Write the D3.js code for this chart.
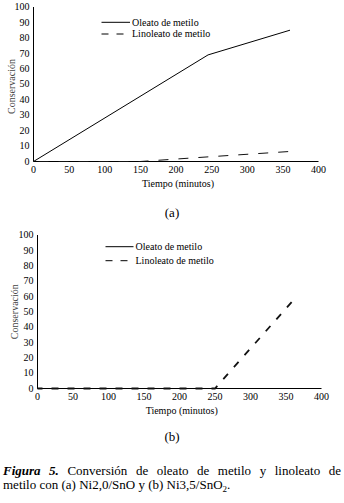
<!DOCTYPE html>
<html>
<head>
<meta charset="utf-8">
<script src="https://cdn.jsdelivr.net/npm/d3@7"></script>
<style>
  body { margin: 0; background: #fff; }
  svg { display: block; }
  svg text { font-family: "Liberation Serif", "Times New Roman", Times, serif; }
</style>
</head>
<body>
<svg id="svg" width="344" height="503"></svg>
<script>
//Data
const X_TICKS = [0, 50, 100, 150, 200, 250, 300, 350, 400];
const Y_TICKS = [0, 10, 20, 30, 40, 50, 60, 70, 80, 90, 100];
const SERIES_NAMES = ["Oleato de metilo", "Linoleato de metilo"];

// panel (a) Ni2,0/SnO
const A_OLEATO_T = [0, 245, 360];
const A_OLEATO_C = [0, 69, 85];
const A_LINOLEATO_T = [0, 150, 245, 360];
const A_LINOLEATO_C = [0, 0, 3, 6.5];

// panel (b) Ni3,5/SnO2
const B_OLEATO_T = [0, 250, 365];
const B_OLEATO_C = [0, 0, 0];
const B_LINOLEATO_T = [0, 250, 365];
const B_LINOLEATO_C = [0, 0, 60];

const X_LABEL = "Tiempo (minutos)";
const Y_LABEL = "Conservación";
const FONT = "'Liberation Serif', 'Times New Roman', Times, serif";

const SVG = d3.select("#svg");

function zip(ts, cs) { return ts.map((t, i) => ({t: t, c: cs[i]})); }

function drawPanel(p)
{
    let g = SVG.append("g");

    let x_scale = d3.scaleLinear().domain([0, 400]).range([p.left, p.right]);
    let y_scale = d3.scaleLinear().domain([0, 100]).range([p.bottom, p.top]);

    let x_axis = d3.axisBottom(x_scale).tickValues(X_TICKS).tickSize(0).tickPadding(4).offset(0);
    let y_axis = d3.axisLeft(y_scale).tickValues(Y_TICKS).tickSize(0).tickPadding(4).offset(0);

    //Axes
    let xg = g.append("g").attr("transform", "translate(0," + p.bottom + ")").call(x_axis);
    let yg = g.append("g").attr("transform", "translate(" + p.left + ",0)").call(y_axis);
    [xg, yg].forEach(a => {
        a.attr("font-family", FONT).attr("font-size", 10);
        a.select(".domain").attr("stroke", "#000").attr("stroke-width", 1);
        a.selectAll("text").attr("fill", "#000");
    });

    //Lines
    let line = d3.line().x(d => x_scale(d.t)).y(d => y_scale(d.c));

    g.append("path")
        .datum(zip(p.oleT, p.oleC))
        .attr("d", line)
        .attr("fill", "none")
        .attr("stroke", "#000")
        .attr("stroke-width", 1);

    g.append("path")
        .datum(zip(p.linT, p.linC))
        .attr("d", line)
        .attr("fill", "none")
        .attr("stroke", "#111")
        .attr("stroke-width", p.dashWidth)
        .attr("stroke-dasharray", p.dash)
        .attr("stroke-dashoffset", p.dashOffset);

    //Legend
    let lg = g.append("g").attr("font-family", FONT);
    lg.append("line")
        .attr("x1", p.legX).attr("x2", p.legX + p.legLen)
        .attr("y1", p.legY).attr("y2", p.legY)
        .attr("stroke", "#000").attr("stroke-width", 1);
    lg.append("line")
        .attr("x1", p.legX).attr("x2", p.legX + p.legLen)
        .attr("y1", p.legY + p.legGap).attr("y2", p.legY + p.legGap)
        .attr("stroke", "#000").attr("stroke-width", 1)
        .attr("stroke-dasharray", "7,8");
    SERIES_NAMES.forEach((name, i) => {
        lg.append("text")
            .attr("x", p.legX + p.legLen + 2)
            .attr("y", p.legY + i * p.legGap + 3.3)
            .attr("font-size", 10)
            .text(name);
    });

    //Axis titles
    g.append("text")
        .attr("text-anchor", "middle")
        .attr("font-family", FONT)
        .attr("x", p.xTitleX)
        .attr("y", p.xTitleY)
        .attr("font-size", 10)
        .text(X_LABEL);

    g.append("text")
        .attr("text-anchor", "middle")
        .attr("font-family", FONT)
        .attr("transform", "translate(" + p.yTitleX + "," + p.yTitleY + ") rotate(-90)")
        .attr("font-size", 10)
        .attr("fill", "#444")
        .text(Y_LABEL);

    //Panel tag
    g.append("text")
        .attr("text-anchor", "middle")
        .attr("font-family", FONT)
        .attr("x", 172)
        .attr("y", p.tagY)
        .attr("font-size", 13)
        .text(p.tag);
}

drawPanel({
    left: 33.5, right: 318.5, top: 7, bottom: 161.5,
    oleT: A_OLEATO_T, oleC: A_OLEATO_C, linT: A_LINOLEATO_T, linC: A_LINOLEATO_C,
    dash: "10,10", dashOffset: -5, dashWidth: 1,
    legX: 101.5, legY: 22.3, legLen: 28.5, legGap: 11.7,
    xTitleX: 178, xTitleY: 186.5, yTitleX: 15, yTitleY: 86.5,
    tag: "(a)", tagY: 217
});

drawPanel({
    left: 37.5, right: 321.5, top: 235, bottom: 388.5,
    oleT: B_OLEATO_T, oleC: B_OLEATO_C, linT: B_LINOLEATO_T, linC: B_LINOLEATO_C,
    dash: "7,9", dashOffset: -14, dashWidth: 1.8,
    legX: 105.5, legY: 246.7, legLen: 28, legGap: 14,
    xTitleX: 181.7, xTitleY: 414, yTitleX: 18, yTitleY: 311.7,
    tag: "(b)", tagY: 441
});

//Caption (first line justified to the column width)
let cap = SVG.append("text").attr("font-family", FONT).attr("x", 3).attr("y", 474.5).attr("font-size", 13);
cap.append("tspan").attr("font-weight", "bold").attr("font-style", "italic").text("Figura 5.");
cap.append("tspan").text(" Conversión de oleato de metilo y linoleato de");
let natural = cap.node().getComputedTextLength();
let spaces = 9;
cap.attr("word-spacing", Math.max(0, (338 - natural) / spaces));

let cap2 = SVG.append("text").attr("font-family", FONT).attr("x", 3).attr("y", 488.5).attr("font-size", 13);
cap2.append("tspan").text("metilo con (a) Ni2,0/SnO y (b) Ni3,5/SnO");
cap2.append("tspan").attr("font-size", 9).attr("dy", 3).text("2");
cap2.append("tspan").attr("dy", -3).text(".");
</script>
</body>
</html>
